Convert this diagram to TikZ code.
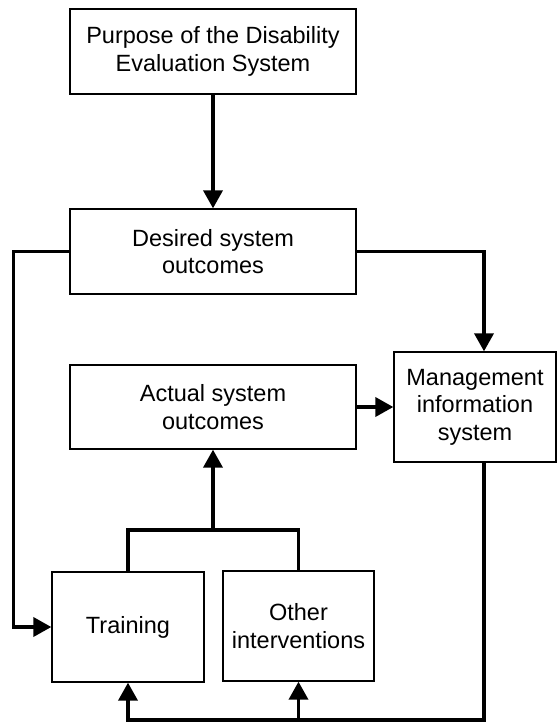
\documentclass[tikz,border=0pt]{standalone}
\usepackage{fontspec}
\setmainfont{Liberation Sans}
\usetikzlibrary{arrows.meta}
\begin{document}
\begin{tikzpicture}[x=1pt,y=-1pt,
  box/.style={draw, line width=1.3pt, align=center, inner sep=0pt,
    font=\fontsize{23.5}{27.5}\selectfont},
  conn/.style={line width=3.6pt},
  arr/.style={conn, -{Triangle[length=18pt,width=19pt]}}]
\useasboundingbox (0,0) rectangle (558,723);

% boxes
\node[box, minimum width=286pt, minimum height=85pt] (purpose) at (213,51.5)
  {Purpose of the Disability\\Evaluation System};
\node[box, minimum width=286pt, minimum height=85pt] (desired) at (213,251.5)
  {Desired system\\outcomes};
\node[box, minimum width=286pt, minimum height=84pt] (actual) at (213,407)
  {Actual system\\outcomes};
\node[box, minimum width=162pt, minimum height=110pt] (mis) at (475,407)
  {Management\\information\\system};
\node[box, minimum width=152pt, minimum height=110pt] (training) at (128,627)
  {Training};
\node[box, minimum width=151pt, minimum height=110pt] (other) at (298.5,626)
  {Other\\interventions};

% helper points for the routed connectors
\coordinate (join) at (213,530);
\coordinate (loopR) at (484,720);
\coordinate (loopL) at (128,720);

% connectors
\draw[arr] (purpose.south) -- (desired.north);
\draw[arr] (desired.west) -- ++(-56,0) |- (training.west);
\draw[arr] (desired.east) -| ([xshift=9pt]mis.north);
\draw[arr] (actual.east) -- (mis.west |- actual.east);
\draw[conn] (training.north) |- (join) -| (other.north);
\draw[arr] (join) -- (actual.south);
\draw[arr] ([xshift=9pt]mis.south) -- (loopR) -- (loopL) -- (training.south);
\draw[arr] (other.south |- loopL) -- (other.south);
\end{tikzpicture}
\end{document}
